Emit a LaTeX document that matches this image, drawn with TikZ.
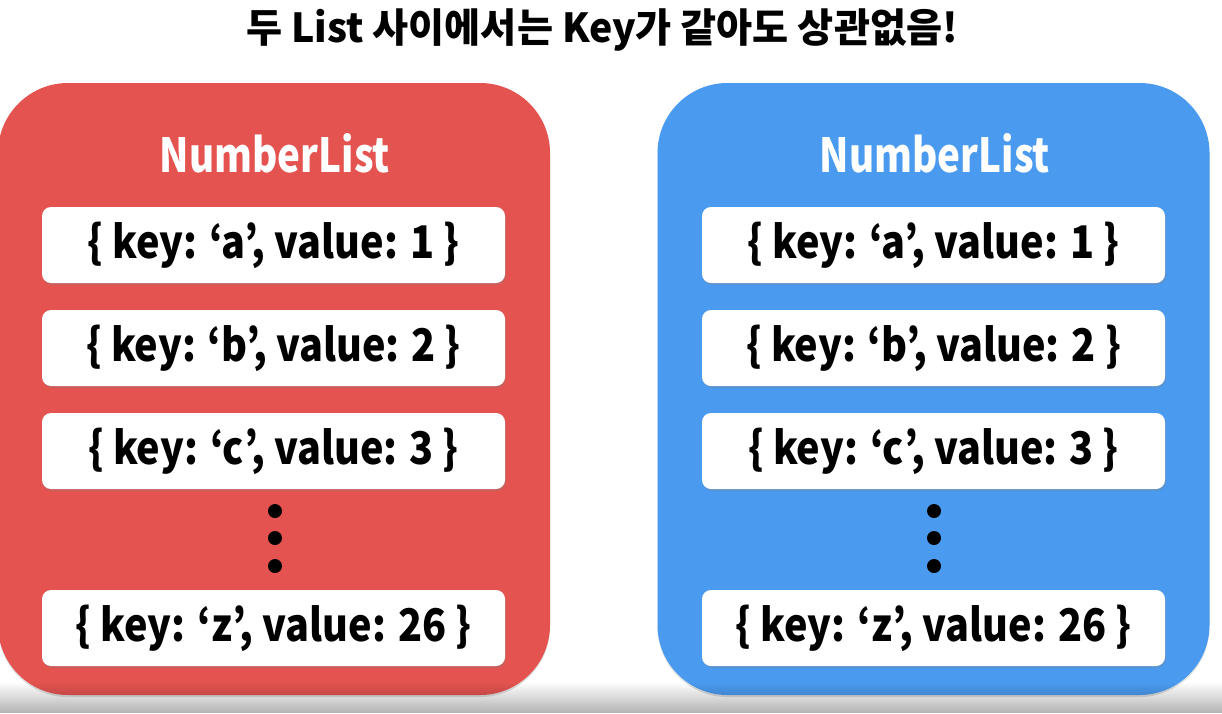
\documentclass[tikz,border=0pt]{standalone}
\usepackage{fontspec}
\usepackage{graphicx}
\newfontfamily\krfont{Noto Sans CJK KR}
\usetikzlibrary{shadows,fadings}
\definecolor{listred}{RGB}{228,83,80}
\definecolor{listblue}{RGB}{74,155,240}
\tikzfading[name=fadedown, top color=transparent!100, bottom color=transparent!0]
% horizontally condensed text
\newcommand\squeezed[2]{\scalebox{#1}[1]{#2}}
\tikzset{
  listbox/.style={rounded corners=70pt, minimum width=552pt, minimum height=612pt,
    inner sep=0pt, drop shadow={opacity=0.25, shadow xshift=0pt, shadow yshift=-2pt}},
  listhead/.style={text=white, font=\krfont\bfseries\fontsize{47}{52}\selectfont},
  entry/.style={fill=white, rounded corners=9pt, minimum width=463pt, minimum height=76pt,
    inner sep=0pt, font=\krfont\bfseries\fontsize{45}{50}\selectfont,
    drop shadow={opacity=0.3, shadow xshift=1pt, shadow yshift=-2pt}},
  dot/.style={circle, fill=black, minimum size=14pt, inner sep=0pt}
}
\begin{document}
\begin{tikzpicture}[x=1pt,y=-1pt]
\useasboundingbox (0,0) rectangle (1222,713);
\fill[white] (0,0) rectangle (1222,713);

\node[font=\krfont\bfseries\fontsize{40}{46}\selectfont] (title) at (602,30)
  {\squeezed{0.98}{두 List 사이에서는 Key가 같아도 상관없음!}};

% left list
\node[listbox, fill=listred] (left) at (274,389) {};
\node[listhead] (lhead) at (275,153) {\squeezed{0.82}{NumberList}};
\node[entry] (la) at (273.5,245) {\squeezed{0.88}{\{ key: ‘a’, value: 1 \}}};
\node[entry] (lb) at (273.5,348) {\squeezed{0.88}{\{ key: ‘b’, value: 2 \}}};
\node[entry] (lc) at (273.5,451) {\squeezed{0.88}{\{ key: ‘c’, value: 3 \}}};
\node[dot] (ld1) at (275,511) {};
\node[dot] (ld2) at (275,538) {};
\node[dot] (ld3) at (275,566) {};
\node[entry] (lz) at (273.5,628) {\squeezed{0.88}{\{ key: ‘z’, value: 26 \}}};

% right list
\node[listbox, fill=listblue] (right) at (933.5,389) {};
\node[listhead] (rhead) at (935,153) {\squeezed{0.82}{NumberList}};
\node[entry] (ra) at (933.5,245) {\squeezed{0.88}{\{ key: ‘a’, value: 1 \}}};
\node[entry] (rb) at (933.5,348) {\squeezed{0.88}{\{ key: ‘b’, value: 2 \}}};
\node[entry] (rc) at (933.5,451) {\squeezed{0.88}{\{ key: ‘c’, value: 3 \}}};
\node[dot] (rd1) at (934,511) {};
\node[dot] (rd2) at (934,538) {};
\node[dot] (rd3) at (934,566) {};
\node[entry] (rz) at (933.5,628) {\squeezed{0.88}{\{ key: ‘z’, value: 26 \}}};

% darkening band along the lower edge
\fill[black, opacity=0.3, path fading=fadedown] (0,682) rectangle (1222,713);
\end{tikzpicture}
\end{document}
